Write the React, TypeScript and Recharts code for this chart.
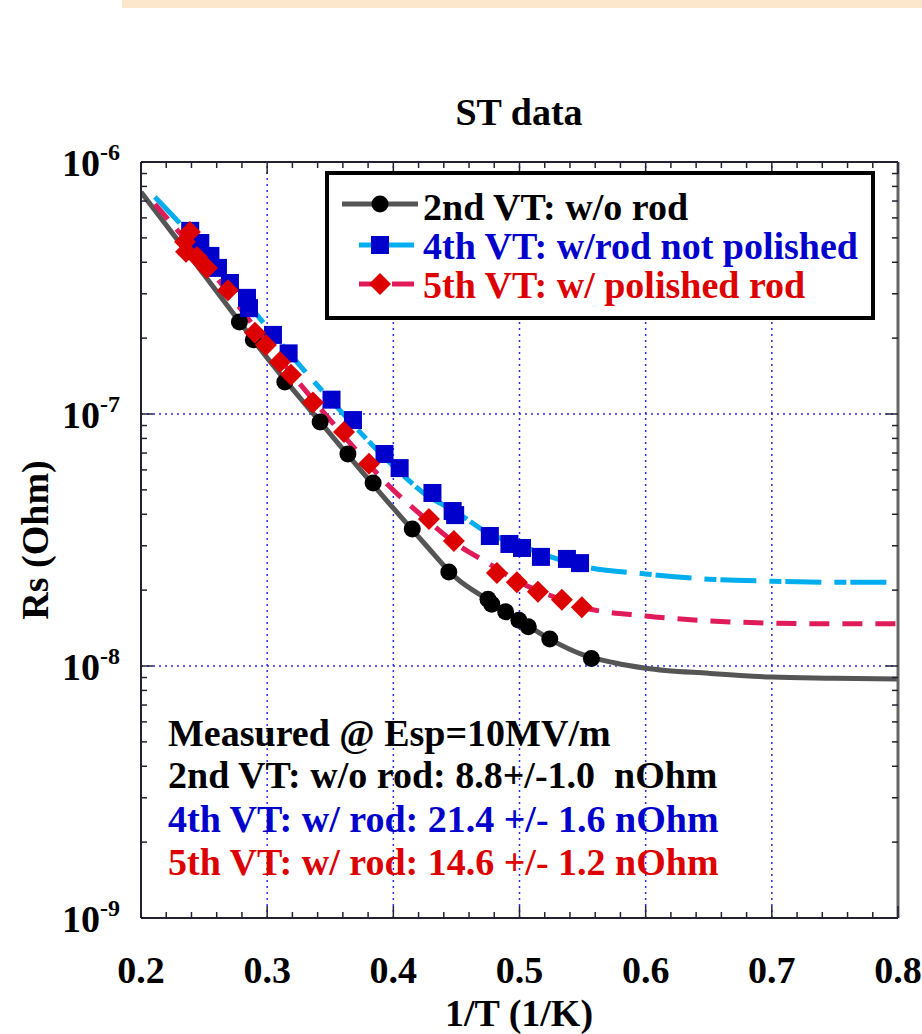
import React from "react";
import {
  ComposedChart, Line, Scatter, XAxis, YAxis, ReferenceLine,
} from "recharts";

// 2nd VT: w/o rod (measured points)
const VT2_X = [0.278, 0.289, 0.314, 0.342, 0.364, 0.384, 0.415, 0.444, 0.475, 0.478, 0.489, 0.4995, 0.507, 0.524, 0.557];
const VT2_RS = [2.32e-7, 1.97e-7, 1.34e-7, 9.3e-8, 6.94e-8, 5.32e-8, 3.5e-8, 2.36e-8, 1.84e-8, 1.76e-8, 1.64e-8, 1.52e-8, 1.43e-8, 1.28e-8, 1.07e-8];

// 4th VT: w/rod not polished
const VT4_X = [0.239, 0.247, 0.255, 0.261, 0.2705, 0.284, 0.2856, 0.3046, 0.317, 0.351, 0.368, 0.393, 0.405, 0.431, 0.447, 0.449, 0.4765, 0.492, 0.502, 0.517, 0.5376, 0.548];
const VT4_RS = [5.33e-7, 4.77e-7, 4.24e-7, 3.8e-7, 3.31e-7, 2.89e-7, 2.63e-7, 2.06e-7, 1.74e-7, 1.14e-7, 9.46e-8, 6.94e-8, 6.1e-8, 4.86e-8, 4.12e-8, 3.97e-8, 3.28e-8, 3.05e-8, 2.94e-8, 2.71e-8, 2.66e-8, 2.56e-8];

// 5th VT: w/ polished rod
const VT5_X = [0.2388, 0.2349, 0.2357, 0.2444, 0.2523, 0.2689, 0.2903, 0.299, 0.3101, 0.3189, 0.3363, 0.3609, 0.3807, 0.4282, 0.448, 0.4821, 0.4979, 0.5146, 0.5336, 0.5494];
const VT5_RS = [5.28e-7, 4.82e-7, 4.4e-7, 4.2e-7, 3.8e-7, 3.1e-7, 2.1e-7, 1.88e-7, 1.61e-7, 1.43e-7, 1.11e-7, 8.49e-8, 6.34e-8, 3.83e-8, 3.13e-8, 2.34e-8, 2.15e-8, 1.97e-8, 1.83e-8, 1.71e-8];

// fitted curves
const FIT2_X = [0.2, 0.25, 0.3, 0.35, 0.4, 0.425, 0.45, 0.475, 0.5, 0.525, 0.55, 0.575, 0.6, 0.65, 0.7, 0.75, 0.8];
const FIT2_RS = [7.6e-7, 3.57e-7, 1.67e-7, 8.34e-8, 4.23e-8, 3.05e-8, 2.23e-8, 1.83e-8, 1.52e-8, 1.27e-8, 1.11e-8, 1.03e-8, 9.8e-9, 9.35e-9, 9.04e-9, 8.95e-9, 8.87e-9];
const FIT4_X = [0.211, 0.25, 0.3, 0.35, 0.4, 0.425, 0.45, 0.475, 0.5, 0.525, 0.55, 0.6, 0.65, 0.7, 0.75, 0.8];
const FIT4_RS = [7.26e-7, 4.48e-7, 2.21e-7, 1.14e-7, 6.22e-8, 4.82e-8, 4.08e-8, 3.37e-8, 3.02e-8, 2.71e-8, 2.49e-8, 2.32e-8, 2.21e-8, 2.17e-8, 2.15e-8, 2.15e-8];
const FIT5_X = [0.211, 0.25, 0.3, 0.35, 0.4, 0.425, 0.45, 0.475, 0.5, 0.525, 0.55, 0.6, 0.65, 0.7, 0.75, 0.8];
const FIT5_RS = [6.81e-7, 4.01e-7, 1.91e-7, 9.46e-8, 4.99e-8, 3.86e-8, 3.05e-8, 2.56e-8, 2.15e-8, 1.9e-8, 1.71e-8, 1.58e-8, 1.51e-8, 1.48e-8, 1.47e-8, 1.47e-8];

const X_MAJOR = [0.2, 0.3, 0.4, 0.5, 0.6, 0.7, 0.8];
const Y_DECADES = [1e-9, 1e-8, 1e-7, 1e-6];
const X_GRID = [0.3, 0.4, 0.5, 0.6, 0.7];
const Y_GRID = [1e-8, 1e-7];

const LEGEND = [
  "2nd VT: w/o rod",
  "4th VT: w/rod not polished",
  "5th VT: w/ polished rod",
];
const NOTES = [
  "Measured @ Esp=10MV/m",
  "2nd VT: w/o rod: 8.8+/-1.0  nOhm",
  "4th VT: w/ rod: 21.4 +/- 1.6 nOhm",
  "5th VT: w/ rod: 14.6 +/- 1.2 nOhm",
];

const zip = (xs: number[], ys: number[]) => xs.map((x, i) => ({ x, y: ys[i] }));

const vt2 = zip(VT2_X, VT2_RS);
const vt4 = zip(VT4_X, VT4_RS);
const vt5 = zip(VT5_X, VT5_RS);
const fit2 = zip(FIT2_X, FIT2_RS);
const fit4 = zip(FIT4_X, FIT4_RS);
const fit5 = zip(FIT5_X, FIT5_RS);

// minor ticks every 0.02 on x, 2..9 per decade on y
const xTicks: number[] = [];
for (let i = 0; i <= 30; i++) xTicks.push(Math.round((0.2 + i * 0.02) * 1000) / 1000);
const yTicks: number[] = [];
Y_DECADES.slice(0, 3).forEach((d) => {
  for (let k = 1; k <= 9; k++) yTicks.push(k * d);
});
yTicks.push(1e-6);

const FONT = "'Liberation Serif', 'Times New Roman', serif";
const BLACK_LINE = "#555555";
const CYAN = "#00AEEF";
const CRIMSON = "#E01B5A";
const BLUE = "#0000CC";
const RED = "#DD0000";
const TICK = "#222233";

const isMajorX = (v: number) => X_MAJOR.some((m) => Math.abs(m - v) < 1e-6);
const isDecade = (v: number) => Y_DECADES.some((d) => Math.abs(d - v) / d < 1e-6);

const BottomTick = ({ x, y, payload }: any) => {
  const major = isMajorX(payload.value);
  return (
    <g>
      <line x1={x} x2={x} y1={y} y2={y - (major ? 12 : 6)} stroke={TICK} strokeWidth={1.5} />
      {major && (
        <text x={x} y={y + 65} textAnchor="middle" fontFamily={FONT} fontWeight="bold" fontSize={38} fill="#000">
          {payload.value.toFixed(1)}
        </text>
      )}
    </g>
  );
};

const TopTick = ({ x, y, payload }: any) => {
  const major = isMajorX(payload.value);
  return <line x1={x} x2={x} y1={y} y2={y + (major ? 12 : 6)} stroke={TICK} strokeWidth={1.5} />;
};

const LeftTick = ({ x, y, payload }: any) => {
  const major = isDecade(payload.value);
  const exp = Math.round(Math.log10(payload.value));
  return (
    <g>
      <line x1={x} x2={x + (major ? 12 : 6)} y1={y} y2={y} stroke={TICK} strokeWidth={1.5} />
      {major && (
        <text x={x - 79} y={y + 14} fontFamily={FONT} fontWeight="bold" fontSize={38} fill="#000">
          10
          <tspan dy={-16} fontSize={24}>{String(exp)}</tspan>
        </text>
      )}
    </g>
  );
};

const RightTick = ({ x, y, payload }: any) => {
  const major = isDecade(payload.value);
  return <line x1={x} x2={x - (major ? 12 : 6)} y1={y} y2={y} stroke={TICK} strokeWidth={1.5} />;
};

const Dot = ({ cx, cy }: any) => <circle cx={cx} cy={cy} r={8.5} fill="#000" />;
const Square = ({ cx, cy }: any) => <rect x={cx - 9} y={cy - 9} width={18} height={18} fill={BLUE} />;
const Diamond = ({ cx, cy }: any) => (
  <polygon points={`${cx},${cy - 11} ${cx + 11},${cy} ${cx},${cy + 11} ${cx - 11},${cy}`} fill={RED} />
);

export default function App() {
  const txt = { fontFamily: FONT, fontWeight: "bold" as const, fontSize: 38 };
  return (
    <div style={{ position: "absolute", left: 0, top: 0, width: 922, height: 1034, background: "#fff" }}>
      <div style={{ position: "absolute", left: 122, top: 0, width: 800, height: 8, background: "#FCE6CC" }} />
      <ComposedChart
        width={922}
        height={1034}
        margin={{ top: 161, right: 23, bottom: 115, left: 140 }}
        style={{ position: "absolute", left: 0, top: 0 }}
      >
        <XAxis
          xAxisId={0} type="number" dataKey="x" domain={[0.2, 0.8]} allowDataOverflow
          ticks={xTicks} interval={0} tick={<BottomTick />} tickLine={false} tickSize={0} tickMargin={0}
          height={1} axisLine={{ stroke: TICK, strokeWidth: 2 }}
        />
        <XAxis
          xAxisId="top" orientation="top" type="number" dataKey="x" domain={[0.2, 0.8]} allowDataOverflow
          ticks={xTicks} interval={0} tick={<TopTick />} tickLine={false} tickSize={0} tickMargin={0}
          height={1} axisLine={{ stroke: TICK, strokeWidth: 2 }}
        />
        <YAxis
          yAxisId={0} scale="log" type="number" domain={[1e-9, 1e-6]} allowDataOverflow
          ticks={yTicks} interval={0} tick={<LeftTick />} tickLine={false} tickSize={0} tickMargin={0}
          width={1} axisLine={{ stroke: TICK, strokeWidth: 2 }}
        />
        <YAxis
          yAxisId="right" orientation="right" scale="log" type="number" domain={[1e-9, 1e-6]} allowDataOverflow
          ticks={yTicks} interval={0} tick={<RightTick />} tickLine={false} tickSize={0} tickMargin={0}
          width={1} axisLine={{ stroke: "#666", strokeWidth: 3 }}
        />

        {X_GRID.map((v) => (
          <ReferenceLine key={`gx${v}`} x={v} stroke="#2B2BF0" strokeWidth={1.5} strokeDasharray="2 4" />
        ))}
        {Y_GRID.map((v) => (
          <ReferenceLine key={`gy${v}`} y={v} stroke="#2B2BF0" strokeWidth={1.5} strokeDasharray="2 4" />
        ))}

        <Line data={fit2} dataKey="y" type="monotone" stroke={BLACK_LINE} strokeWidth={5} dot={false} isAnimationActive={false} />
        <Line data={fit4} dataKey="y" type="monotone" stroke={CYAN} strokeWidth={5} strokeDasharray="36 13 12 4" dot={false} isAnimationActive={false} />
        <Line data={fit5} dataKey="y" type="monotone" stroke={CRIMSON} strokeWidth={5} strokeDasharray="20 13" dot={false} isAnimationActive={false} />

        <Scatter data={vt2} dataKey="y" shape={<Dot />} isAnimationActive={false} />
        <Scatter data={vt4} dataKey="y" shape={<Square />} isAnimationActive={false} />
        <Scatter data={vt5} dataKey="y" shape={<Diamond />} isAnimationActive={false} />
      </ComposedChart>

      <svg width={922} height={1034} style={{ position: "absolute", left: 0, top: 0, pointerEvents: "none" }}>
        <text x={519} y={125} textAnchor="middle" {...txt} fill="#000">ST data</text>
        <text x={519} y={1026} textAnchor="middle" {...txt} fill="#000">1/T (1/K)</text>
        <text x={48} y={540} textAnchor="middle" transform="rotate(-90 48 540)" {...txt} fill="#000">Rs (Ohm)</text>

        <rect x={327} y={173} width={546} height={145} fill="#fff" stroke="#000" strokeWidth={4} />
        <line x1={342} x2={418} y1={204} y2={204} stroke={BLACK_LINE} strokeWidth={5} />
        <circle cx={380} cy={204} r={8.5} fill="#000" />
        <line x1={359} x2={414} y1={245} y2={245} stroke={CYAN} strokeWidth={5} />
        <rect x={371} y={236} width={18} height={18} fill={BLUE} />
        <line x1={359} x2={372} y1={284} y2={284} stroke={CRIMSON} strokeWidth={5} />
        <line x1={392} x2={414} y1={284} y2={284} stroke={CRIMSON} strokeWidth={5} />
        <polygon points="380,273 391,284 380,295 369,284" fill={RED} />
        <text x={423} y={220} {...txt} fill="#000">{LEGEND[0]}</text>
        <text x={423} y={259} {...txt} fill={BLUE}>{LEGEND[1]}</text>
        <text x={423} y={298} {...txt} fill={RED}>{LEGEND[2]}</text>

        <text x={168} y={746} {...txt} fill="#000">{NOTES[0]}</text>
        <text x={168} y={788} {...txt} fill="#000" style={{ whiteSpace: "pre" }}>{NOTES[1]}</text>
        <text x={168} y={832} {...txt} fill={BLUE}>{NOTES[2]}</text>
        <text x={168} y={875} {...txt} fill={RED}>{NOTES[3]}</text>
      </svg>
    </div>
  );
}
